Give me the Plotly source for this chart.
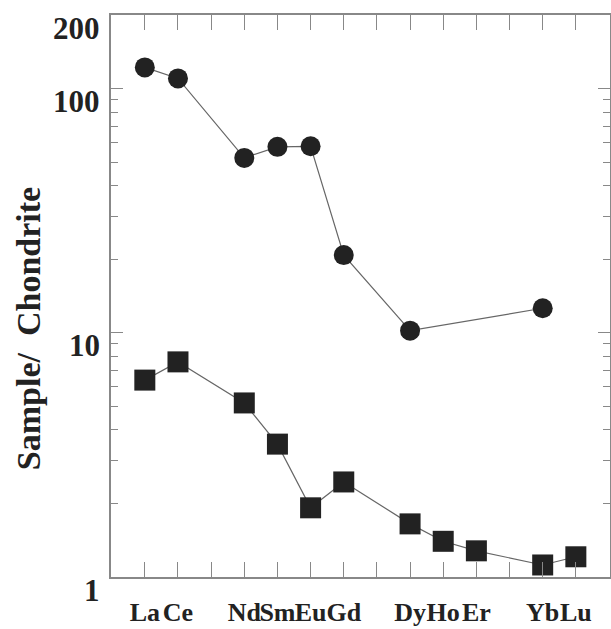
import math
import plotly.graph_objects as go

elements = ["La", "Ce", "Pr", "Nd", "Sm", "Eu", "Gd", "Tb", "Dy", "Ho", "Er", "Tm", "Yb", "Lu"]
tick_text = ["La", "Ce", "", "Nd", "Sm", "Eu", "Gd", "", "Dy", "Ho", "Er", "", "Yb", "Lu"]

circle_elems = ["La", "Ce", "Nd", "Sm", "Eu", "Gd", "Dy", "Yb"]
circle_vals = [122, 110, 52, 57.7, 58, 20.8, 10.2, 12.6]

square_elems = ["La", "Ce", "Nd", "Sm", "Eu", "Gd", "Dy", "Ho", "Er", "Yb", "Lu"]
square_vals = [6.4, 7.6, 5.16, 3.5, 1.92, 2.45, 1.65, 1.40, 1.28, 1.12, 1.21]

y_ticks = [1, 10, 100, 200]
y_tick_labels = ["1", "10", "100", "200"]
y_minor = [2, 3, 4, 5, 6, 7, 8, 9, 20, 30, 40, 50, 60, 70, 80, 90]

idx = {e: i for i, e in enumerate(elements)}

fig = go.Figure()
fig.add_trace(go.Scatter(
    x=[idx[e] for e in circle_elems], y=circle_vals, mode="lines+markers",
    line=dict(color="#666666", width=1.2),
    marker=dict(symbol="circle", size=20, color="#222222"),
    showlegend=False))
fig.add_trace(go.Scatter(
    x=[idx[e] for e in square_elems], y=square_vals, mode="lines+markers",
    line=dict(color="#666666", width=1.2),
    marker=dict(symbol="square", size=21, color="#222222"),
    showlegend=False))
# empty trace so the mirrored right-hand axis (with minor ticks) is drawn
fig.add_trace(go.Scatter(x=[None], y=[None], yaxis="y2", mode="markers",
                         showlegend=False, hoverinfo="skip"))

font = "Liberation Serif, Times New Roman, serif"

# y tick labels (drawn slightly below their ticks, as in the original figure)
annotations = [dict(
    text=lab, xref="paper", yref="y", x=0, y=math.log10(v),
    xanchor="right", yanchor="middle", xshift=-9, yshift=-13,
    showarrow=False, font=dict(family=font, size=31, color="#222222", weight="bold"))
    for v, lab in zip(y_ticks, y_tick_labels)]
annotations.append(dict(
    text="<b>Sample/  Chondrite</b>", xref="paper", yref="paper",
    x=0, y=0.441, xanchor="center", yanchor="middle", xshift=-83,
    textangle=-90, showarrow=False,
    font=dict(family=font, size=34, color="#222222")))

yrange = [0, math.log10(200) + 1e-6]

fig.update_layout(
    width=611, height=629,
    margin=dict(l=111, r=1, t=15, b=52),
    paper_bgcolor="white", plot_bgcolor="white",
    xaxis=dict(
        range=[-1.02, 14.03], tickmode="array",
        tickvals=list(range(len(elements))), ticktext=tick_text,
        tickangle=0, automargin=False, ticklabelstandoff=11,
        ticks="inside", ticklen=15, tickcolor="#888888", tickwidth=1,
        showline=True, linecolor="#888888", linewidth=1.5, mirror="ticks",
        showgrid=False, zeroline=False,
        tickfont=dict(family=font, size=26, color="#222222", weight="bold"),
    ),
    yaxis=dict(
        type="log", range=yrange, tickmode="array",
        tickvals=y_ticks, showticklabels=False, automargin=False,
        ticks="inside", ticklen=12, tickcolor="#888888", tickwidth=1,
        showline=True, linecolor="#888888", linewidth=1.5, mirror="ticks",
        showgrid=False, zeroline=False,
        minor=dict(tickmode="array", tickvals=y_minor, ticks="inside",
                   ticklen=7, tickcolor="#888888", showgrid=False),
    ),
    yaxis2=dict(
        type="log", range=yrange, overlaying="y", side="right", anchor="x",
        tickmode="array", tickvals=y_ticks, showticklabels=False,
        automargin=False, ticks="inside", ticklen=12, tickcolor="#888888",
        tickwidth=1, showline=False, showgrid=False, zeroline=False,
        minor=dict(tickmode="array", tickvals=y_minor, ticks="inside",
                   ticklen=7, tickcolor="#888888", showgrid=False),
    ),
    annotations=annotations,
)
# remove the browser's default 8px body margin so the figure fills the window
fig.write_html("out.html", config={"displayModeBar": False},
               post_script="document.body.style.margin='0';")
